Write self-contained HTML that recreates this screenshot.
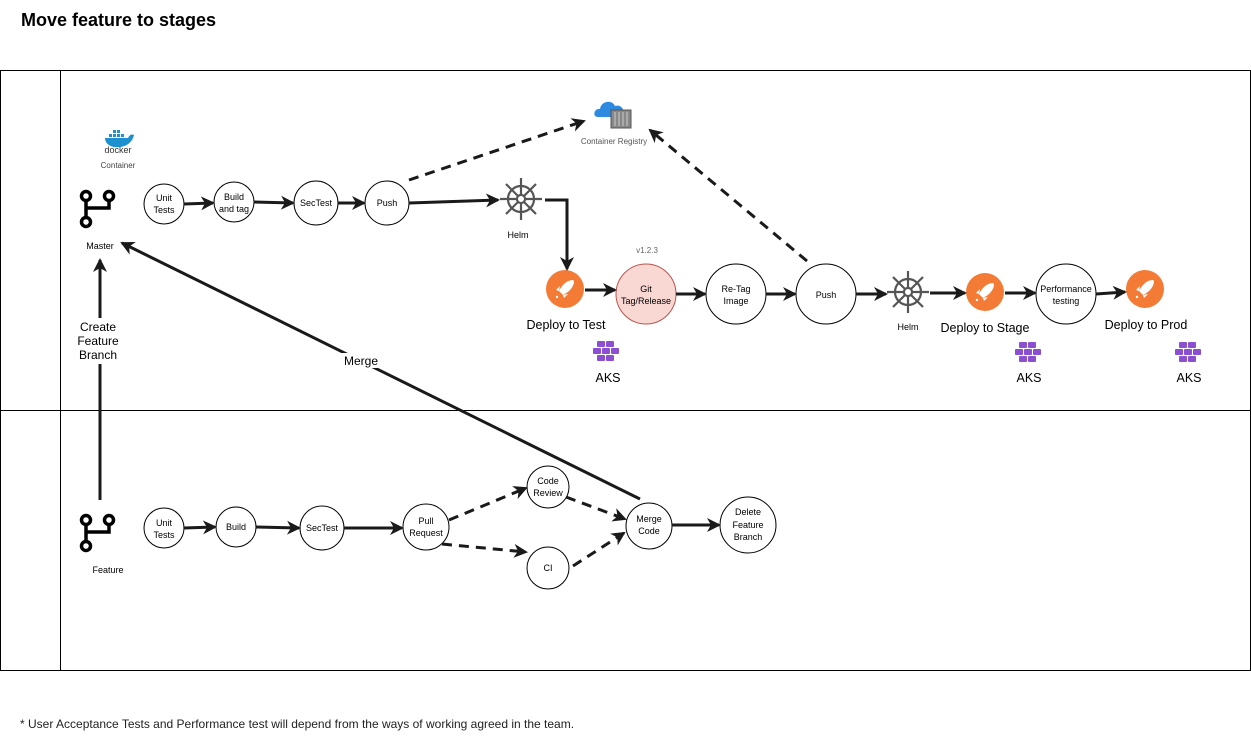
<!DOCTYPE html>
<html><head><meta charset="utf-8"><style>
html,body{margin:0;padding:0;background:#fff;}
svg{display:block;font-family:"Liberation Sans",Arial,sans-serif;}
</style></head><body>
<svg width="1251" height="741" viewBox="0 0 1251 741" xmlns="http://www.w3.org/2000/svg">
<defs>
<marker id="b" markerWidth="14" markerHeight="14" refX="12" refY="7" orient="auto" markerUnits="userSpaceOnUse" viewBox="0 0 14 14">
<path d="M0,0 L14,7 L0,14 L4,7 Z" fill="#1a1a1a"/>
</marker>
<g id="helm">
<g stroke="#555" stroke-width="2.2" fill="none">
<circle r="13"/><circle r="4"/>
<line x1="0" y1="-21" x2="0" y2="21"/><line x1="-21" y1="0" x2="21" y2="0"/>
<line x1="-15" y1="-15" x2="15" y2="15"/><line x1="-15" y1="15" x2="15" y2="-15"/>
</g>
<circle r="4" fill="#fff" stroke="#555" stroke-width="2"/>
</g>
<g id="rocket">
<circle r="19" fill="#f47b36"/>
<path d="M8,-9 C2,-9 -3,-4 -6,2 L-2,6 C4,3 9,-2 9,-8 Z" fill="#fff"/>
<path d="M-6,2 L-9,1 L-5,-3 Z M-2,6 L-1,9 L3,5 Z" fill="#fff"/>
<circle cx="-8" cy="8" r="1.2" fill="#fff"/>
</g>
<g id="branch" fill="none" stroke="#000" stroke-width="3.5">
<circle cx="-12" cy="-11" r="4.5"/><circle cx="11" cy="-11" r="4.5"/><circle cx="-12" cy="15" r="4.5"/>
<line x1="-12" y1="-6.5" x2="-12" y2="10.5"/>
<path d="M11,-6.5 L11,1 L-12,1"/>
</g>
<g id="aks">
<g fill="#8c4fd1">
<rect x="-10" y="-10" width="8" height="6" rx="1"/><rect x="-1" y="-10" width="8" height="6" rx="1"/>
<rect x="-14" y="-3" width="8" height="6" rx="1"/><rect x="-5" y="-3" width="8" height="6" rx="1"/><rect x="4" y="-3" width="8" height="6" rx="1"/>
<rect x="-10" y="4" width="8" height="6" rx="1"/><rect x="-1" y="4" width="8" height="6" rx="1"/>
</g>
</g>
</defs>

<text x="21" y="26" font-size="18" font-weight="bold" fill="#000">Move feature to stages</text>

<rect x="0.5" y="70.5" width="1250" height="600" fill="none" stroke="#000"/>
<line x1="60.5" y1="70" x2="60.5" y2="670" stroke="#000"/>
<line x1="0" y1="410.5" x2="1251" y2="410.5" stroke="#000"/>

<!-- docker -->
<g transform="translate(118,138)">
<path d="M-13,0 L10,0 C12,-4 14,-4 16,-3 C14,6 6,10 -4,9 C-10,8 -13,4 -13,0 Z" fill="#1d91d0"/>
<g fill="#1d91d0"><rect x="-9" y="-4" width="3" height="3"/><rect x="-5" y="-4" width="3" height="3"/><rect x="-1" y="-4" width="3" height="3"/><rect x="3" y="-4" width="3" height="3"/><rect x="-1" y="-8" width="3" height="3"/><rect x="-5" y="-8" width="3" height="3"/></g>
</g>
<text x="118" y="153" font-size="9" text-anchor="middle" fill="#333">docker</text>
<text x="118" y="168" font-size="8" text-anchor="middle" fill="#444">Container</text>

<!-- registry -->
<path d="M598,117 C592,117 594,108 600,109 C601,101 612,99 615,106 C621,104 626,110 622,117 Z" fill="#2e8ae0"/>
<rect x="611" y="110" width="20" height="18" fill="#888" stroke="#555" stroke-width="1"/>
<g stroke="#ccc" stroke-width="1"><line x1="615" y1="112" x2="615" y2="126"/><line x1="619" y1="112" x2="619" y2="126"/><line x1="623" y1="112" x2="623" y2="126"/><line x1="627" y1="112" x2="627" y2="126"/></g>
<text x="614" y="144" font-size="8" text-anchor="middle" fill="#555">Container Registry</text>

<!-- master -->
<use href="#branch" x="98" y="207"/>
<text x="100" y="249" font-size="9" text-anchor="middle" fill="#000">Master</text>

<g fill="#fff" stroke="#000" stroke-width="1">
<circle cx="164" cy="204" r="20"/>
<circle cx="234" cy="202" r="20"/>
<circle cx="316" cy="203" r="22"/>
<circle cx="387" cy="203" r="22"/>
<circle cx="646" cy="294" r="30" fill="#f9d7d3" stroke="#b85450"/>
<circle cx="736" cy="294" r="30"/>
<circle cx="826" cy="294" r="30"/>
<circle cx="1066" cy="294" r="30"/>
</g>
<g font-size="9" text-anchor="middle" fill="#000">
<text x="164" y="201">Unit</text><text x="164" y="213">Tests</text>
<text x="234" y="200">Build</text><text x="234" y="212">and tag</text>
<text x="316" y="206">SecTest</text>
<text x="387" y="206">Push</text>
<text x="646" y="292">Git</text><text x="646" y="304">Tag/Release</text>
<text x="736" y="292">Re-Tag</text><text x="736" y="304">Image</text>
<text x="826" y="298">Push</text>
<text x="1066" y="292">Performance</text><text x="1066" y="304">testing</text>
<text x="647" y="253" fill="#666" font-size="8">v1.2.3</text>
<text x="518" y="238">Helm</text>
<text x="908" y="330">Helm</text>
</g>

<use href="#helm" x="521" y="199"/>
<use href="#helm" x="908" y="292"/>
<use href="#rocket" x="565" y="289"/>
<use href="#rocket" x="985" y="292"/>
<use href="#rocket" x="1145" y="289"/>
<use href="#aks" x="607" y="351"/>
<use href="#aks" x="1029" y="352"/>
<use href="#aks" x="1189" y="352"/>

<g font-size="12.5" text-anchor="middle" fill="#000">
<text x="566" y="329">Deploy to Test</text>
<text x="985" y="332">Deploy to Stage</text>
<text x="1146" y="329">Deploy to Prod</text>
<text x="608" y="382">AKS</text>
<text x="1029" y="382">AKS</text>
<text x="1189" y="382">AKS</text>
</g>

<g stroke="#1a1a1a" stroke-width="3" fill="none">
<line x1="184" y1="204" x2="213" y2="203" marker-end="url(#b)"/>
<line x1="254" y1="202" x2="293" y2="203" marker-end="url(#b)"/>
<line x1="338" y1="203" x2="364" y2="203" marker-end="url(#b)"/>
<line x1="409" y1="203" x2="498" y2="200" marker-end="url(#b)"/>
<path d="M545,200 L567,200 L567,269" marker-end="url(#b)"/>
<line x1="585" y1="290" x2="615" y2="290" marker-end="url(#b)"/>
<line x1="676" y1="294" x2="705" y2="294" marker-end="url(#b)"/>
<line x1="766" y1="294" x2="795" y2="294" marker-end="url(#b)"/>
<line x1="856" y1="294" x2="886" y2="294" marker-end="url(#b)"/>
<line x1="930" y1="293" x2="965" y2="293" marker-end="url(#b)"/>
<line x1="1005" y1="293" x2="1035" y2="293" marker-end="url(#b)"/>
<line x1="1096" y1="294" x2="1125" y2="292" marker-end="url(#b)"/>
<line x1="409" y1="180" x2="584" y2="121" stroke-dasharray="10,7" marker-end="url(#b)"/>
<line x1="807" y1="261" x2="650" y2="130" stroke-dasharray="10,7" marker-end="url(#b)"/>
<line x1="640" y1="499" x2="122" y2="243" marker-end="url(#b)"/>
<line x1="100" y1="500" x2="100" y2="260" marker-end="url(#b)"/>
</g>
<rect x="338" y="353" width="46" height="15" fill="#fff"/>
<text x="361" y="365" font-size="12" text-anchor="middle">Merge</text>
<rect x="78" y="318" width="42" height="46" fill="#fff"/>
<g font-size="12" text-anchor="middle"><text x="98" y="331">Create</text><text x="98" y="345">Feature</text><text x="98" y="359">Branch</text></g>

<!-- bottom -->
<use href="#branch" x="98" y="531"/>
<text x="108" y="573" font-size="9" text-anchor="middle">Feature</text>
<g fill="#fff" stroke="#000" stroke-width="1">
<circle cx="164" cy="528" r="20"/>
<circle cx="236" cy="527" r="20"/>
<circle cx="322" cy="528" r="22"/>
<circle cx="426" cy="527" r="23"/>
<circle cx="548" cy="487" r="21"/>
<circle cx="548" cy="568" r="21"/>
<circle cx="649" cy="526" r="23"/>
<circle cx="748" cy="525" r="28"/>
</g>
<g font-size="9" text-anchor="middle">
<text x="164" y="526">Unit</text><text x="164" y="538">Tests</text>
<text x="236" y="530">Build</text>
<text x="322" y="531">SecTest</text>
<text x="426" y="524">Pull</text><text x="426" y="536">Request</text>
<text x="548" y="484">Code</text><text x="548" y="496">Review</text>
<text x="548" y="571">CI</text>
<text x="649" y="522">Merge</text><text x="649" y="534">Code</text>
<text x="748" y="515">Delete</text><text x="748" y="528">Feature</text><text x="748" y="540">Branch</text>
</g>
<g stroke="#1a1a1a" stroke-width="3" fill="none">
<line x1="184" y1="528" x2="215" y2="527" marker-end="url(#b)"/>
<line x1="256" y1="527" x2="299" y2="528" marker-end="url(#b)"/>
<line x1="344" y1="528" x2="402" y2="528" marker-end="url(#b)"/>
<line x1="449" y1="520" x2="526" y2="488" stroke-dasharray="10,7" marker-end="url(#b)"/>
<line x1="442" y1="544" x2="526" y2="552" stroke-dasharray="10,7" marker-end="url(#b)"/>
<line x1="566" y1="497" x2="625" y2="519" stroke-dasharray="10,7" marker-end="url(#b)"/>
<line x1="573" y1="566" x2="624" y2="533" stroke-dasharray="10,7" marker-end="url(#b)"/>
<line x1="672" y1="525" x2="719" y2="525" marker-end="url(#b)"/>
</g>

<text x="20" y="728" font-size="12" fill="#222">* User Acceptance Tests and Performance test will depend from the ways of working agreed in the team.</text>
</svg>
</body></html>
